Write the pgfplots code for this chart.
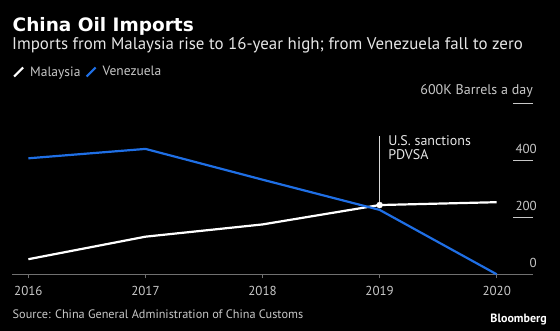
\documentclass[border=0pt]{standalone}
\usepackage{pgfplots}
\pgfplotsset{compat=1.18}
\usepackage{fontspec}
\setmainfont{PT Sans}
\newfontfamily\titlefont{DejaVu Sans}
\definecolor{bbblue}{HTML}{1F6FE5}
\definecolor{axisgray}{HTML}{707070}
\definecolor{ticklab}{HTML}{C8C8C8}
\definecolor{subtxt}{HTML}{E6E6E6}
\begin{document}
\begin{tikzpicture}
\fill[black] (0pt,0pt) rectangle (560pt,331pt);
\useasboundingbox (0pt,0pt) rectangle (560pt,331pt);
\node[anchor=west, text=white, font=\titlefont\bfseries\fontsize{18.5}{21}\selectfont, inner sep=0] at (12.5pt,304.3pt) {China Oil Imports};
\node[anchor=west, text=subtxt, font=\fontsize{16.9}{19}\selectfont, inner sep=0] at (12pt,286pt) {Imports from Malaysia rise to 16-year high; from Venezuela fall to zero};
\node[anchor=east, text=ticklab, font=\fontsize{14}{16}\selectfont, inner sep=0] at (533pt,240.3pt) {600K Barrels a day};
\node[anchor=west, text=ticklab, font=\fontsize{12.25}{15}\selectfont, inner sep=0] at (12.5pt,16.7pt) {Source: China General Administration of China Customs};
\node[anchor=east, text=white, font=\bfseries\fontsize{12}{14}\selectfont, inner sep=0] at (547pt,11pt) {Bloomberg};
\begin{axis}[
  at={(12pt,56.7pt)}, anchor=south west, scale only axis,
  width=521pt, height=171pt,
  xmin=-0.14, xmax=4.31, ymin=0, ymax=600,
  axis x line=bottom, axis y line=right,
  x axis line style={draw=axisgray, line width=1.3pt, -},
  y axis line style={draw=none},
  xtick={0,1,2,3,4},
  xticklabels={2016,2017,2018,2019,2020},
  ytick={0,200,400},
  major tick length=4pt, tick align=outside,
  x tick style={draw=axisgray, line width=1pt},
  y tick style={draw=none},
  xticklabel style={text=ticklab, font=\fontsize{13}{15}\selectfont, yshift=-4pt},
  yticklabel style={text=ticklab, font=\fontsize{13}{15}\selectfont, anchor=south east, inner sep=0pt, yshift=6pt},
  /pgf/number format/assume math mode=true,
  clip=false,
  legend columns=2,
  legend style={at={(0.0015,1.183)}, anchor=west, draw=none, fill=none, text=ticklab,
    font=\fontsize{13.5}{15}\selectfont, inner sep=0pt,
    nodes={inner sep=0pt},
    /tikz/every odd column/.append style={column sep=6pt},
    /tikz/every even column/.append style={column sep=5pt}},
  legend image code/.code={\draw (0pt,-4.5pt) -- (9pt,4.5pt);},
]
\draw[ticklab, line width=0.8pt] (axis cs:4.31,200) -- ++(-20pt,0pt);
\draw[ticklab, line width=0.8pt] (axis cs:4.31,400) -- ++(-20pt,0pt);
\draw[ticklab, line width=0.8pt] (axis cs:4.31,600) -- ++(-20pt,0pt);
\addplot[white, line width=2.2pt] coordinates {(0,53) (1,132) (2,175) (3,243) (4,253)};
\addplot[bbblue, line width=2.2pt] coordinates {(0,407) (1,440) (2,332) (3,226) (4,0)};
\legend{Malaysia,Venezuela}
\draw[white!85!black, line width=0.8pt] (axis cs:3,243) -- (axis cs:3,486);
\addplot[only marks, mark=*, white, mark size=3pt, forget plot] coordinates {(3,243)};
\node[anchor=north west, align=left, text=subtxt, font=\fontsize{14}{13.3}\selectfont, inner sep=0pt] at (axis cs:3,486) {\hspace*{8.5pt}U.S. sanctions\\\hspace*{8.5pt}PDVSA};
\end{axis}
\end{tikzpicture}
\end{document}
